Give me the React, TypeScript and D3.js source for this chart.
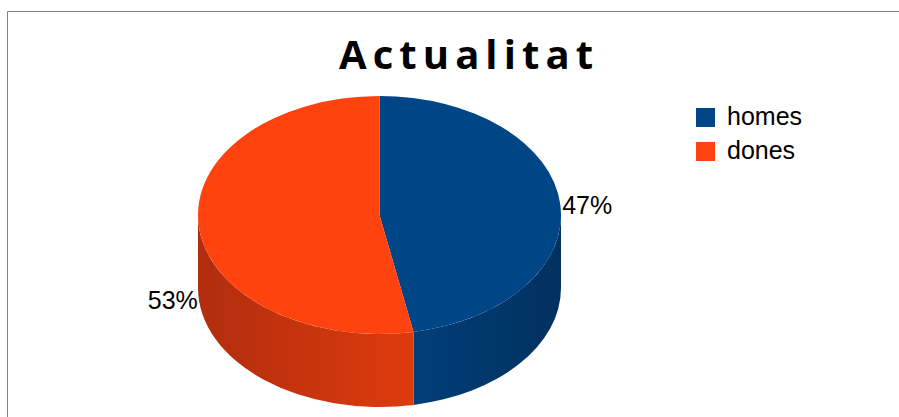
import React, { useEffect, useRef } from 'react';
import * as d3 from 'd3';

const categories = ['homes', 'dones'];
const values = [47, 53];
const labels = ['47%', '53%'];
const title = 'Actualitat';

const App = () => {
  const ref = useRef<SVGSVGElement>(null);

  useEffect(() => {
    const width = 899;
    const height = 417;
    const cx = 379.5;
    const cy = 215;
    const rx = 181.5;
    const ry = 119;
    const depth = 73;

    const topColor = d3.scaleOrdinal<string, string>().domain(categories).range(['#004586', '#ff420e']);
    const sideLight = d3.scaleOrdinal<string, string>().domain(categories).range(['#013e78', '#de3b0c']);
    const sideDark = d3.scaleOrdinal<string, string>().domain(categories).range(['#01315f', '#b02d0e']);

    const svg = d3.select(ref.current);
    svg.selectAll('*').remove();
    svg.attr('width', width).attr('height', height);

    // frame
    svg.append('path')
      .attr('d', `M7.5,${height + 2} L7.5,11.5 L${width + 2},11.5`)
      .attr('fill', 'none')
      .attr('stroke', '#808080')
      .attr('stroke-width', 1);

    svg.append('text')
      .attr('x', 339)
      .attr('y', 69)
      .attr('textLength', 254)
      .attr('lengthAdjust', 'spacing')
      .style('font-family', '"Open Sans", "DejaVu Sans", sans-serif')
      .style('font-weight', 'bold')
      .style('font-size', '40px')
      .attr('fill', '#000')
      .text(title);

    const pie = d3.pie<number>().sort(null).value(d => d);
    const arcs = pie(values);

    const pt = (a: number, dy = 0) => [cx + rx * Math.sin(a), cy - ry * Math.cos(a) + dy];

    const defs = svg.append('defs');
    categories.forEach((c, i) => {
      const g = defs.append('linearGradient')
        .attr('id', `side${i}`)
        .attr('gradientUnits', 'userSpaceOnUse')
        .attr('x1', i === 0 ? 413 : cx - rx)
        .attr('x2', i === 0 ? cx + rx : 413)
        .attr('y1', 0).attr('y2', 0);
      g.append('stop').attr('offset', 0).attr('stop-color', i === 0 ? sideLight(c) : sideDark(c));
      g.append('stop').attr('offset', 1).attr('stop-color', i === 0 ? sideDark(c) : sideLight(c));
    });

    // side walls (front half only)
    arcs.forEach((d, i) => {
      const a0 = Math.max(d.startAngle, Math.PI / 2);
      const a1 = Math.min(d.endAngle, (3 * Math.PI) / 2);
      if (a1 <= a0) return;
      const [x0, y0] = pt(a0);
      const [x1, y1] = pt(a1);
      const p = d3.path();
      p.moveTo(x0, y0);
      const path = `M${x0},${y0} A${rx},${ry} 0 0 1 ${x1},${y1} L${x1},${y1 + depth} A${rx},${ry} 0 0 0 ${x0},${y0 + depth} Z`;
      svg.append('path')
        .attr('d', path)
        .attr('fill', `url(#side${i})`);
    });

    // top faces
    arcs.forEach((d, i) => {
      const [x0, y0] = pt(d.startAngle);
      const [x1, y1] = pt(d.endAngle);
      const large = d.endAngle - d.startAngle > Math.PI ? 1 : 0;
      svg.append('path')
        .attr('d', `M${cx},${cy} L${x0},${y0} A${rx},${ry} 0 ${large} 1 ${x1},${y1} Z`)
        .attr('fill', topColor(categories[i]));
    });

    // value labels
    arcs.forEach((d, i) => {
      const mid = (d.startAngle + d.endAngle) / 2;
      const front = mid > Math.PI / 2 && mid < (3 * Math.PI) / 2;
      const [x, y] = pt(mid, front ? depth : 0);
      const right = Math.sin(mid) > 0;
      svg.append('text')
        .attr('x', right ? x + 2 : x - 1)
        .attr('y', y + 10)
        .attr('text-anchor', right ? 'start' : 'end')
        .style('font-family', '"Liberation Sans", Arial, sans-serif')
        .style('font-size', '25px')
        .attr('fill', '#000')
        .text(labels[i]);
    });

    // legend
    categories.forEach((c, i) => {
      svg.append('rect')
        .attr('x', 696)
        .attr('y', 108 + i * 34)
        .attr('width', 19)
        .attr('height', 19)
        .attr('fill', topColor(c));
      svg.append('text')
        .attr('x', 727)
        .attr('y', 125 + i * 34)
        .style('font-family', '"Liberation Sans", Arial, sans-serif')
        .style('font-size', '25px')
        .attr('fill', '#000')
        .text(c);
    });
  }, []);

  return <svg ref={ref} style={{ position: 'absolute', left: 0, top: 0 }} />;
};

export default App;
